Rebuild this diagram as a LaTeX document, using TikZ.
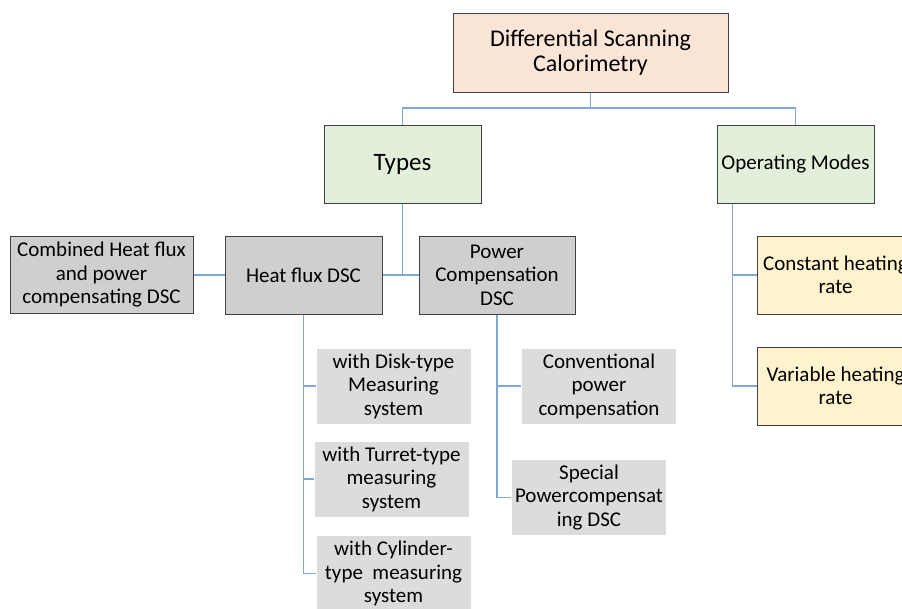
\documentclass[tikz,border=0pt]{standalone}
\usepackage{fontspec}
\setmainfont{Carlito}
\definecolor{conn}{HTML}{7FA8D8}
\definecolor{bord}{HTML}{404040}
\definecolor{peach}{HTML}{FBE5D6}
\definecolor{mint}{HTML}{E2EFDA}
\definecolor{greyb}{HTML}{D0CECE}
\definecolor{cream}{HTML}{FFF2CC}
\definecolor{leafg}{HTML}{DCDCDC}
\tikzset{
  box/.style={rectangle, draw=bord, line width=1pt, align=center, inner sep=2pt,
    font=\fontsize{21}{23.5}\selectfont, text=black},
  topbox/.style={box, fill=peach, minimum width=275pt, minimum height=79pt,
    font=\fontsize{24}{25.5}\selectfont},
  catbox/.style={box, fill=mint, minimum width=157pt, minimum height=78pt},
  typebox/.style={box, fill=greyb, minimum width=157pt, minimum height=78pt},
  ratebox/.style={box, fill=cream, minimum width=157pt, minimum height=78pt},
  leafbox/.style={box, draw=white, fill=leafg, minimum width=155pt, minimum height=76pt},
  link/.style={draw=conn, line width=1.3pt}
}
\begin{document}
\begin{tikzpicture}[x=1pt,y=-1pt]
\useasboundingbox (0,0) rectangle (902,608);
\node[topbox] (dsc) at (590.5,52.5) {Differential Scanning\\Calorimetry};
\node[catbox, font=\fontsize{25}{28}\selectfont] (types) at (402.5,164) {Types};
\node[catbox] (modes) at (795.5,164) {Operating Modes};
\node[typebox, minimum width=183pt, minimum height=77pt] (comb) at (101.5,275) {Combined Heat flux\\and power\\compensating DSC};
\node[typebox] (heat) at (303.5,275) {Heat flux DSC};
\node[typebox, minimum width=156pt] (power) at (497,275) {Power\\Compensation\\DSC};
\node[ratebox] (const) at (835.5,275) {Constant heating\\rate};
\node[ratebox] (var) at (835.5,386) {Variable heating\\rate};
\node[leafbox] (disk) at (393.5,386) {with Disk-type\\Measuring\\system};
\node[leafbox] (turret) at (391.5,479) {with Turret-type\\measuring\\system};
\node[leafbox, minimum height=77pt] (cyl) at (393.5,573.5) {with Cylinder-\\type\ \ measuring\\system};
\node[leafbox] (conv) at (599,386) {Conventional\\power\\compensation};
\node[leafbox] (special) at (589,497.5) {Special\\Powercompensat\\ing DSC};
\coordinate (split) at (590.5,108);
\draw[link] (dsc.south) -- (split) -| (types.north);
\draw[link] (split) -| (modes.north);
\draw[link] (types.south) -- (types.south |- heat.east);
\draw[link] (heat.east) -- (power.west);
\draw[link] (comb.east) -- (heat.west);
\draw[link] (heat.south) |- (disk.west);
\draw[link] (heat.south) |- (turret.west);
\draw[link] (heat.south) |- (cyl.west);
\draw[link] (power.south) |- (conv.west);
\draw[link] (power.south) |- (special.west);
\coordinate (mtap) at ([xshift=16pt]modes.south west);
\draw[link] (mtap) |- (const.west);
\draw[link] (mtap) |- (var.west);
\end{tikzpicture}
\end{document}
